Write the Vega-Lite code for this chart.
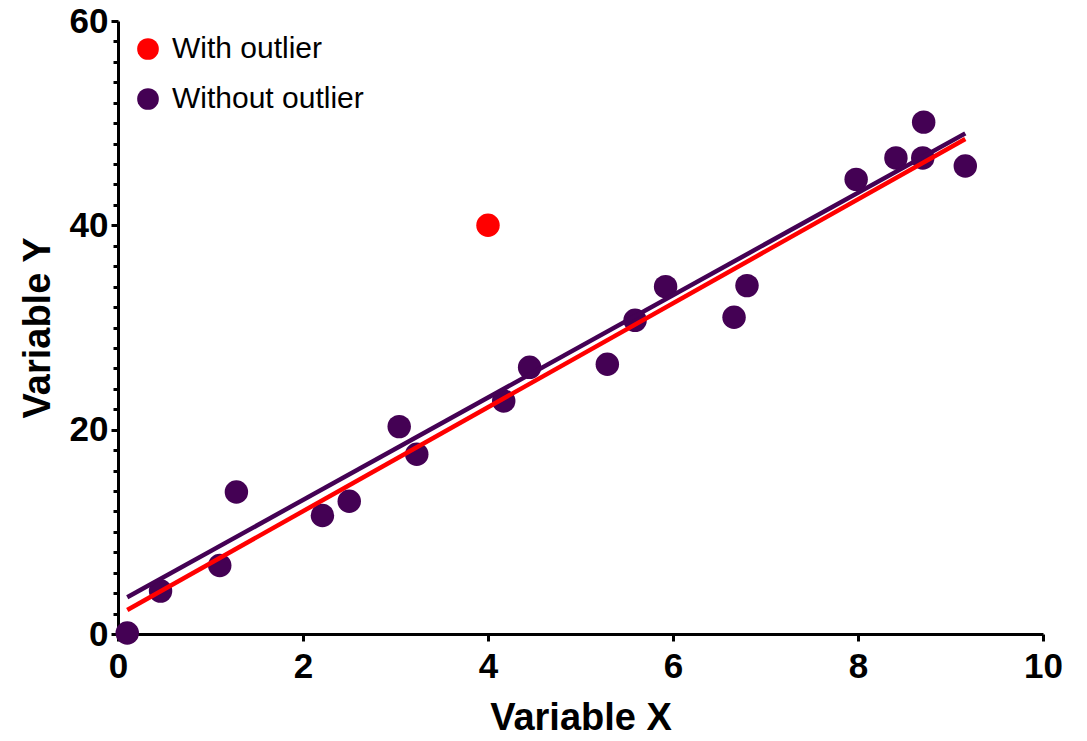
{
  "$schema": "https://vega.github.io/schema/vega-lite/v6.json",
  "width": 925,
  "height": 613,
  "autosize": {"type": "none"},
  "padding": {"left": 118, "top": 21, "right": 44, "bottom": 107},
  "background": "white",
  "config": {
    "view": {"stroke": null},
    "font": "Liberation Sans"
  },
  "datasets": {
    "points": [
      {"x": 0.1, "y": 0.1, "series": "Without outlier"},
      {"x": 0.46, "y": 4.2, "series": "Without outlier"},
      {"x": 1.1, "y": 6.7, "series": "Without outlier"},
      {"x": 1.28, "y": 13.9, "series": "Without outlier"},
      {"x": 2.21, "y": 11.6, "series": "Without outlier"},
      {"x": 2.5, "y": 13.0, "series": "Without outlier"},
      {"x": 3.04, "y": 20.3, "series": "Without outlier"},
      {"x": 3.23, "y": 17.6, "series": "Without outlier"},
      {"x": 4.17, "y": 22.8, "series": "Without outlier"},
      {"x": 4.45, "y": 26.1, "series": "Without outlier"},
      {"x": 5.29, "y": 26.4, "series": "Without outlier"},
      {"x": 5.59, "y": 30.7, "series": "Without outlier"},
      {"x": 5.92, "y": 34.0, "series": "Without outlier"},
      {"x": 6.66, "y": 31.0, "series": "Without outlier"},
      {"x": 6.8, "y": 34.1, "series": "Without outlier"},
      {"x": 7.98, "y": 44.5, "series": "Without outlier"},
      {"x": 8.41, "y": 46.6, "series": "Without outlier"},
      {"x": 8.7, "y": 46.6, "series": "Without outlier"},
      {"x": 8.71, "y": 50.1, "series": "Without outlier"},
      {"x": 9.16, "y": 45.8, "series": "Without outlier"},
      {"x": 4.0, "y": 40.0, "series": "With outlier"}
    ],
    "lines": [
      {"x": 0.1, "y": 3.6, "series": "Without outlier"},
      {"x": 9.16, "y": 49.0, "series": "Without outlier"},
      {"x": 0.1, "y": 2.35, "series": "With outlier"},
      {"x": 9.16, "y": 48.45, "series": "With outlier"}
    ]
  },
  "encoding": {
    "x": {
      "field": "x",
      "type": "quantitative",
      "scale": {"domain": [0, 10], "nice": false, "zero": false},
      "axis": {
        "title": "Variable X",
        "values": [0, 2, 4, 6, 8, 10],
        "grid": false,
        "domainColor": "black",
        "domainWidth": 3,
        "tickColor": "black",
        "tickWidth": 3,
        "tickSize": 7,
        "labelFont": "Liberation Sans",
        "labelFontSize": 35,
        "labelFontWeight": "bold",
        "labelColor": "black",
        "labelPadding": 8,
        "labelFlush": false,
        "titleFont": "Liberation Sans",
        "titleFontSize": 38,
        "titleFontWeight": "bold",
        "titleColor": "black",
        "titlePadding": 15
      }
    },
    "y": {
      "field": "y",
      "type": "quantitative",
      "scale": {"domain": [0, 60], "nice": false, "zero": false},
      "axis": {
        "title": "Variable Y",
        "values": [0, 2, 4, 6, 8, 10, 12, 14, 16, 18, 20, 22, 24, 26, 28, 30, 32, 34, 36, 38, 40, 42, 44, 46, 48, 50, 52, 54, 56, 58, 60],
        "labelExpr": "datum.value % 20 === 0 ? datum.label : ''",
        "grid": false,
        "domainColor": "black",
        "domainWidth": 3,
        "tickColor": "black",
        "tickWidth": 3,
        "tickSize": {"condition": {"test": "datum.value % 20 === 0", "value": 7}, "value": 5},
        "labelFont": "Liberation Sans",
        "labelFontSize": 35,
        "labelFontWeight": "bold",
        "labelColor": "black",
        "labelPadding": 3,
        "labelFlush": false,
        "labelOverlap": false,
        "titleFont": "Liberation Sans",
        "titleFontSize": 38,
        "titleFontWeight": "bold",
        "titleColor": "black",
        "titlePadding": 12
      }
    }
  },
  "layer": [
    {
      "data": {"name": "points"},
      "mark": {"type": "point", "shape": "circle", "filled": true, "size": 550, "opacity": 1, "strokeWidth": 0},
      "encoding": {
        "color": {
          "field": "series",
          "type": "nominal",
          "scale": {"domain": ["With outlier", "Without outlier"], "range": ["#ff0000", "#440154"]},
          "legend": {
            "title": null,
            "orient": "none",
            "legendX": 15,
            "legendY": 13,
            "padding": 0,
            "symbolType": "circle",
            "symbolSize": 470,
            "symbolStrokeWidth": 0,
            "symbolOpacity": 1,
            "labelFont": "Liberation Sans",
            "labelFontSize": 30,
            "labelColor": "black",
            "labelOffset": 9,
            "labelLimit": 0,
            "rowPadding": 20
          }
        }
      }
    },
    {
      "data": {"name": "lines"},
      "transform": [{"filter": "datum.series === 'Without outlier'"}],
      "mark": {"type": "line", "strokeWidth": 4.5},
      "encoding": {
        "color": {"field": "series", "type": "nominal", "legend": null}
      }
    },
    {
      "data": {"name": "lines"},
      "transform": [{"filter": "datum.series === 'With outlier'"}],
      "mark": {"type": "line", "strokeWidth": 4.5},
      "encoding": {
        "color": {"field": "series", "type": "nominal", "legend": null}
      }
    }
  ]
}
